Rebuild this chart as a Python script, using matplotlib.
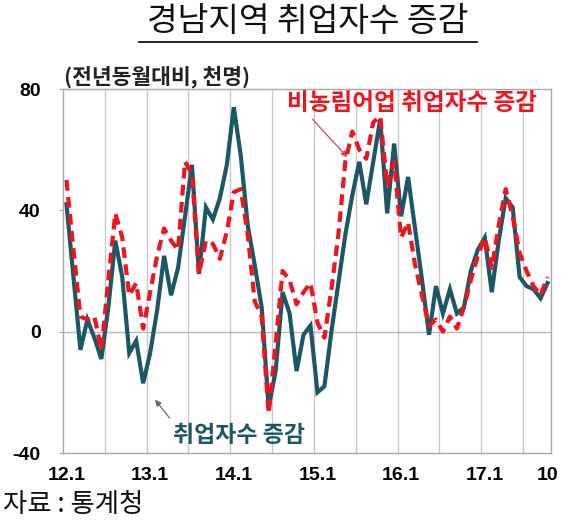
import matplotlib
matplotlib.use("Agg")
import matplotlib.pyplot as plt
from matplotlib.lines import Line2D

# =========================
# DATA (monthly, 2012.1 - 2017.10, thousand persons, y/y change)
# =========================
total_change = [42, 18, -6, 4, -2, -9, 8, 30, 18, -7, -3, -17,
                -7, 7, 25, 12, 21, 38, 55, 19, 41, 37, 44, 55,
                74, 58, 35, 22, 8, -25, -13, 13, 6, -13, -1, 2,
                -20, -18, 0, 16, 32, 45, 56, 42, 56, 70, 39, 62,
                38, 51, 34, 17, -1, 15, 6, 14, 6, 8, 20, 27,
                31, 13, 30, 44, 41, 18, 15, 14, 11, 16]
nonfarm_change = [50, 27, 5, 4, 5, -6, 17, 39, 31, 12, 16, 1,
                  13, 25, 34, 30, 27, 56, 52, 19, 30, 29, 24, 33,
                  46, 47, 32, 10, 5, -27, -4, 20, 17, 9, 13, 16,
                  3, -2, 14, 32, 56, 66, 60, 57, 69, 71, 48, 56,
                  31, 36, 22, 12, 2, 4, 0, 5, 1, 8, 17, 25,
                  31, 21, 35, 47, 38, 26, 20, 15, 12, 18]
tick_pos = [0, 12, 24, 36, 48, 60, 69]
tick_labels = ["12.1", "13.1", "14.1", "15.1", "16.1", "17.1", "10"]
y_ticks = [-40, 0, 40, 80]

TEAL = "#1c5766"
RED = "#f0141e"
KR = ["Noto Sans CJK KR", "DejaVu Sans"]

# =========================
# FIGURE
# =========================
fig = plt.figure(figsize=(5.67, 5.26), dpi=100)
ax = fig.add_axes([63 / 567, 1 - 453 / 526, 488 / 567, 364 / 526])

months = list(range(len(total_change)))
ax.plot(months, total_change, color=TEAL, lw=3.0, solid_joinstyle="miter", zorder=3)
ax.plot(months, nonfarm_change, color=RED, lw=3.0, dashes=(2.6, 1.5), zorder=4)

ax.set_xlim(-0.5, 69.5)
ax.set_ylim(-40, 80)

# grid: vertical lines every 6 months (between categories), zero line
for g in range(6, 70, 6):
    ax.axvline(g - 0.5, color="#c8c8c8", lw=1, zorder=1)
ax.axhline(0, color="#b8b8b8", lw=1, zorder=1)

for s in ax.spines.values():
    s.set_color("#a8a8a8")
    s.set_linewidth(1)

ax.set_xticks(tick_pos)
ax.set_xticklabels(tick_labels, fontfamily="Liberation Sans", fontweight="bold", fontsize=14)
ax.set_yticks(y_ticks)
ax.set_yticklabels([str(v) for v in y_ticks], fontfamily="Liberation Sans",
                   fontweight="bold", fontsize=14)
ax.tick_params(axis="x", length=0, pad=10)
ax.tick_params(axis="y", length=3, color="#a8a8a8", pad=13)

# =========================
# ANNOTATIONS
# =========================
ax.text(412 / 567, 1 - 103 / 526, "비농림어업 취업자수 증감", transform=fig.transFigure,
        ha="center", va="center", fontsize=17, fontweight="bold", color=RED, family=KR)
ax.annotate("", xy=(40.3, 57.5), xytext=(35.3, 70),
            arrowprops=dict(arrowstyle="-|>", color="#d84848", lw=0.9,
                            mutation_scale=9, shrinkA=0, shrinkB=0))

ax.text(239 / 567, 1 - 435 / 526, "취업자수 증감", transform=fig.transFigure,
        ha="center", va="center", fontsize=16.5, fontweight="bold", color=TEAL, family=KR)
ax.annotate("", xy=(12.7, -22.4), xytext=(14.8, -28.5),
            arrowprops=dict(arrowstyle="-|>", color="#607070", lw=0.9,
                            mutation_scale=9, shrinkA=0, shrinkB=0))

fig.text(64 / 567, 1 - 77 / 526, "(전년동월대비, 천명)", ha="left", va="center",
         fontsize=15.5, fontweight="bold", color="#222222", family=KR)

# title with underline
fig.text(308 / 567, 1 - 22 / 526, "경남지역 취업자수 증감", ha="center", va="center",
         fontsize=24, color="#111111", family=KR)
fig.add_artist(Line2D([139 / 567, 477 / 567], [1 - 42 / 526, 1 - 42 / 526],
                      transform=fig.transFigure, color="#111111", lw=1.3))

fig.text(3 / 567, 1 - 505 / 526, "자료 : 통계청", ha="left", va="center",
         fontsize=19, color="#111111", family=KR)

fig.savefig("out.png", dpi=100)
